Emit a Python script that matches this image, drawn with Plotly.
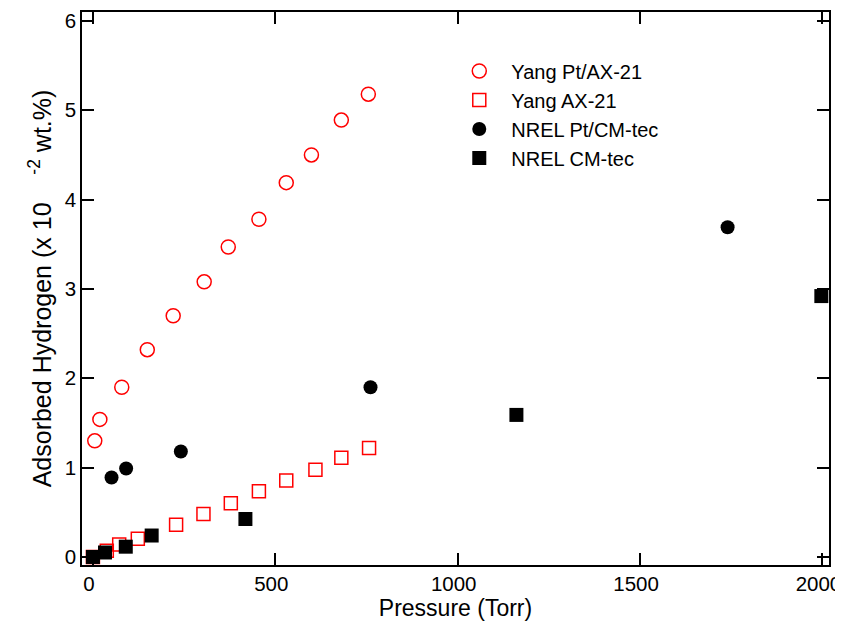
import plotly.graph_objects as go

# Yang Pt/AX-21 (open red circles)
yang_pt_p = [5, 19, 79, 149, 220, 305, 371, 455, 530, 599, 681, 755]
yang_pt_h = [1.30, 1.54, 1.90, 2.32, 2.70, 3.08, 3.47, 3.78, 4.19, 4.50, 4.89, 5.18]

# Yang AX-21 (open red squares)
yang_p = [0, 38, 72, 123, 228, 303, 378, 455, 530, 610, 681, 757]
yang_h = [0.0, 0.07, 0.14, 0.205, 0.36, 0.48, 0.60, 0.735, 0.855, 0.975, 1.11, 1.22]

# NREL Pt/CM-tec (filled black circles)
nrel_pt_p = [51, 91, 241, 761, 1740]
nrel_pt_h = [0.89, 0.99, 1.18, 1.90, 3.69]

# NREL CM-tec (filled black squares)
nrel_p = [0, 33, 90, 161, 418, 1161, 1997]
nrel_h = [0.0, 0.05, 0.115, 0.24, 0.425, 1.59, 2.92]

x_ticks = [0, 500, 1000, 1500, 2000]
y_ticks = [0, 1, 2, 3, 4, 5, 6]

font_family = "Liberation Sans, Arial, sans-serif"

fig = go.Figure()
fig.add_trace(
    go.Scatter(
        x=yang_pt_p,
        y=yang_pt_h,
        mode="markers",
        name="Yang Pt/AX-21",
        marker=dict(symbol="circle-open", size=14, color="red", line=dict(width=1.5)),
    )
)
fig.add_trace(
    go.Scatter(
        x=yang_p,
        y=yang_h,
        mode="markers",
        name="Yang AX-21",
        marker=dict(symbol="square-open", size=13, color="red", line=dict(width=1.5)),
    )
)
fig.add_trace(
    go.Scatter(
        x=nrel_pt_p,
        y=nrel_pt_h,
        mode="markers",
        name="NREL Pt/CM-tec",
        marker=dict(symbol="circle", size=14, color="black"),
    )
)
fig.add_trace(
    go.Scatter(
        x=nrel_p,
        y=nrel_h,
        mode="markers",
        name="NREL CM-tec",
        marker=dict(symbol="square", size=14, color="black"),
    )
)

axis_style = dict(
    showgrid=False,
    zeroline=False,
    showline=True,
    linecolor="black",
    linewidth=1.5,
    mirror="ticks",
    ticks="inside",
    ticklen=12,
    tickwidth=1.5,
    tickcolor="black",
    automargin=False,
    ticklabeloverflow="allow",
    tickfont=dict(size=20.5, color="black", family=font_family),
)
fig.update_xaxes(
    **axis_style,
    range=[-30, 2018],
    tickvals=x_ticks,
    # labels sit a little left of their ticks, which keeps "2000" on the page
    ticklabelshift=-4,
    title=dict(text="Pressure (Torr)", font=dict(size=23, color="black", family=font_family), standoff=2),
)
fig.update_yaxes(
    **axis_style,
    range=[-0.09, 6.1],
    tickvals=y_ticks,
    title=dict(
        text="Adsorbed Hydrogen (x 10\u00a0\u00a0\u00a0\u00a0<sup>-2</sup>\u00a0wt.%)",
        font=dict(size=25, color="black", family=font_family),
        standoff=6,
    ),
)

# the page adds an 8px body margin, so the figure is 8px smaller than the window
fig.update_layout(
    width=835,
    height=620,
    margin=dict(l=74, r=14, t=4, b=63),
    plot_bgcolor="white",
    paper_bgcolor="white",
    font=dict(family=font_family, color="black"),
    legend=dict(
        x=0.489,
        y=0.9285,
        xanchor="left",
        yanchor="top",
        itemwidth=54,
        bgcolor="rgba(0,0,0,0)",
        font=dict(size=20, color="black", family=font_family),
    ),
)

fig.write_html("out.html")
